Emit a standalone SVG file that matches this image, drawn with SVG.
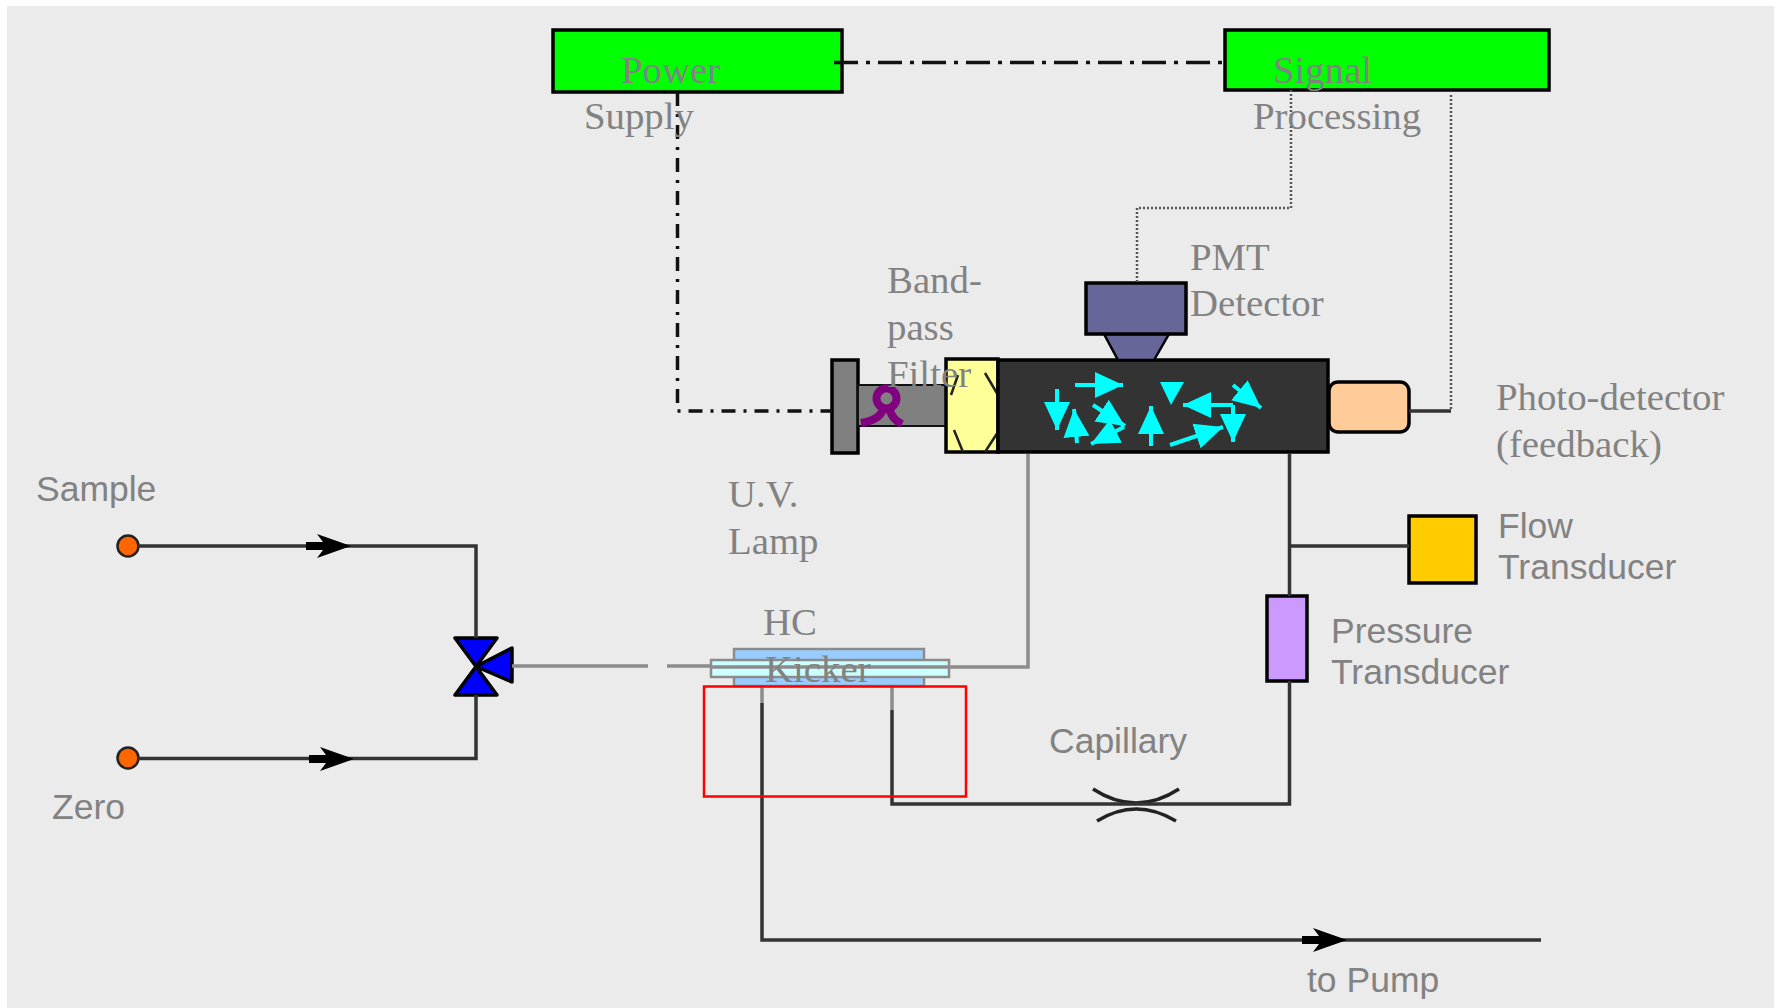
<svg xmlns="http://www.w3.org/2000/svg" width="1777" height="1008" viewBox="0 0 1777 1008">
<style>
.s{font-family:"Liberation Serif",serif;font-size:38.800px;fill:#828282}
.a{font-family:"Liberation Sans",sans-serif;font-size:35.500px;fill:#828282}
.box{stroke:#000;stroke-width:3.500}
.pipe{fill:none;stroke:#333;stroke-width:3.500}
.gp{fill:none;stroke:#8c8c8c;stroke-width:3.500}
.dd{fill:none;stroke:#111;stroke-width:3.500}
.dot{fill:none;stroke:#555;stroke-width:2.500;stroke-dasharray:2 2}
.c{stroke:#00ffff;stroke-width:4;fill:none;marker-end:url(#ch)}
.tick{stroke:#222;stroke-width:2.500;fill:none}
</style>
<defs>
<marker id="ch" markerUnits="userSpaceOnUse" markerWidth="30" markerHeight="30" refX="28" refY="13" orient="auto" viewBox="0 0 30 26"><path d="M0 0L28 13L0 26Z" fill="#00ffff"/></marker>
<path id="fa" d="M0 0L-34-12L-28-4H-45V4H-28L-34 12Z" fill="#000"/>
</defs>
<rect width="1777" height="1008" fill="#fff"/>
<rect x="7" y="6" width="1767" height="1002" fill="#ebebeb"/>
<g id="power-supply"><rect class="box" x="553" y="30" width="289" height="62" fill="#00ff00"/></g>
<g id="signal-processing"><rect class="box" x="1225" y="30" width="324" height="60" fill="#00ff00"/></g>
<g id="uv-lamp">
<rect class="box" x="832" y="360" width="26" height="93" fill="#808080"/>
<rect x="858" y="385" width="88" height="41" fill="#808080" stroke="#111" stroke-width="2"/>
<path d="M861 423C872 421 880 418 884 408A10 10 0 1 1 889 408C892 418 896 421 902 424" fill="none" stroke="#800080" stroke-width="8"/>
</g>
<g id="filter">
<rect class="box" x="946" y="359" width="52" height="93" fill="#ffff99"/>
<path class="tick" d="M951 395L958 375M985 373L998 395M954 430L963 452M998 432L985 452"/>
</g>
<g id="cell">
<rect class="box" x="998" y="360" width="330" height="92" fill="#333"/>
<path class="c" d="M1075 385H1123"/>
<path class="c" d="M1057 389V430"/>
<path class="c" d="M1077 443L1074 409"/>
<path class="c" d="M1093 405L1125 426"/>
<path class="c" d="M1124 427L1091 444"/>
<path class="c" d="M1151 446V406"/>
<path d="M1160 382H1184L1171 405Z" fill="#00ffff"/>
<path class="c" d="M1233 405H1183"/>
<path class="c" d="M1233 405V442"/>
<path class="c" d="M1233 385L1261 408"/>
<path class="c" d="M1170 445L1223 427"/>
</g>
<g id="pmt">
<path d="M1104 334H1169L1154 360H1118Z" fill="#666699" stroke="#000" stroke-width="2.500"/>
<rect class="box" x="1086" y="283" width="100" height="51" fill="#666699"/>
</g>
<g id="photo-detector"><rect class="box" x="1329" y="382" width="80" height="50" rx="9" fill="#ffcc99"/></g>
<g id="flow-transducer"><rect class="box" x="1409" y="516" width="67" height="67" fill="#ffcc00"/></g>
<g id="pressure-transducer"><rect class="box" x="1267" y="596" width="40" height="85" fill="#cc99ff"/></g>
<g id="valve"><path d="M455 638H497L455 695H497ZM476 666.500L512 648V682Z" fill="#0000ff" stroke="#000" stroke-width="3.500" stroke-linejoin="round"/></g>
<g id="hc-kicker">
<rect x="734" y="649" width="190" height="37" fill="#99ccff" stroke="#8c8c8c" stroke-width="2.500"/>
<rect x="711" y="660" width="238" height="17" fill="#ccffff" stroke="#8c8c8c" stroke-width="2.500"/>
<path class="gp" d="M711 667H949"/>
</g>
<g id="capillary" fill="none" stroke="#222" stroke-width="3.500"><path d="M1093 789Q1136 817 1179 789"/><path d="M1097 821Q1136 797 1176 821"/></g>
<g id="sample-inlet"><circle cx="128" cy="546" r="10.500" fill="#ff6600" stroke="#222" stroke-width="2.500"/></g>
<g id="zero-inlet"><circle cx="128" cy="758" r="10.500" fill="#ff6600" stroke="#222" stroke-width="2.500"/></g>
<g id="connectors">
<path class="dd" d="M834 62.500H1222" stroke-dasharray="24 8 4 8"/>
<path class="dd" d="M677.500 92V411H832" stroke-dasharray="14 8 3 8" stroke-width="3"/>
<path class="dot" d="M1291 90V208H1137V283"/>
<path class="dot" d="M1451 95V411"/>
<path class="pipe" d="M1409 411H1451"/>
<path class="pipe" d="M138 546H476V638"/>
<path class="pipe" d="M138 758.500H476V695"/>
<path class="gp" d="M512 666H648M667 666H712"/>
<path class="gp" d="M948 667H1028V454"/>
<path class="pipe" d="M1289.500 453V596M1289.500 546H1409M1289.500 681V804H892V710"/>
<path class="gp" d="M892 687V710M762 687V703"/>
<path class="pipe" d="M762 703V940H1541"/>
<use href="#fa" x="351" y="546"/>
<use href="#fa" x="354" y="759"/>
<use href="#fa" x="1347" y="940"/>
</g>
<rect id="highlight" x="704" y="686.500" width="262" height="110" fill="none" stroke="#ff0000" stroke-width="2.500"/>
<g id="labels">
<text class="s" x="621" y="83">Power</text>
<text class="s" x="584" y="129">Supply</text>
<text class="s" x="1273" y="83">Signal</text>
<text class="s" x="1253" y="129">Processing</text>
<text class="s" x="887" y="293">Band-</text>
<text class="s" x="887" y="340">pass</text>
<text class="s" x="887" y="387">Filter</text>
<text class="s" x="1190" y="270">PMT</text>
<text class="s" x="1190" y="316">Detector</text>
<text class="s" x="1496" y="410">Photo-detector</text>
<text class="s" x="1496" y="457">(feedback)</text>
<text class="s" x="728" y="507">U.V.</text>
<text class="s" x="728" y="554">Lamp</text>
<text class="s" x="763" y="635">HC</text>
<text class="s" x="765" y="682">Kicker</text>
<text class="a" x="36" y="501">Sample</text>
<text class="a" x="52" y="819">Zero</text>
<text class="a" x="1498" y="538">Flow</text>
<text class="a" x="1498" y="579">Transducer</text>
<text class="a" x="1331" y="643">Pressure</text>
<text class="a" x="1331" y="684">Transducer</text>
<text class="a" x="1049" y="753">Capillary</text>
<text class="a" x="1307" y="992">to Pump</text>
</g>
</svg>
